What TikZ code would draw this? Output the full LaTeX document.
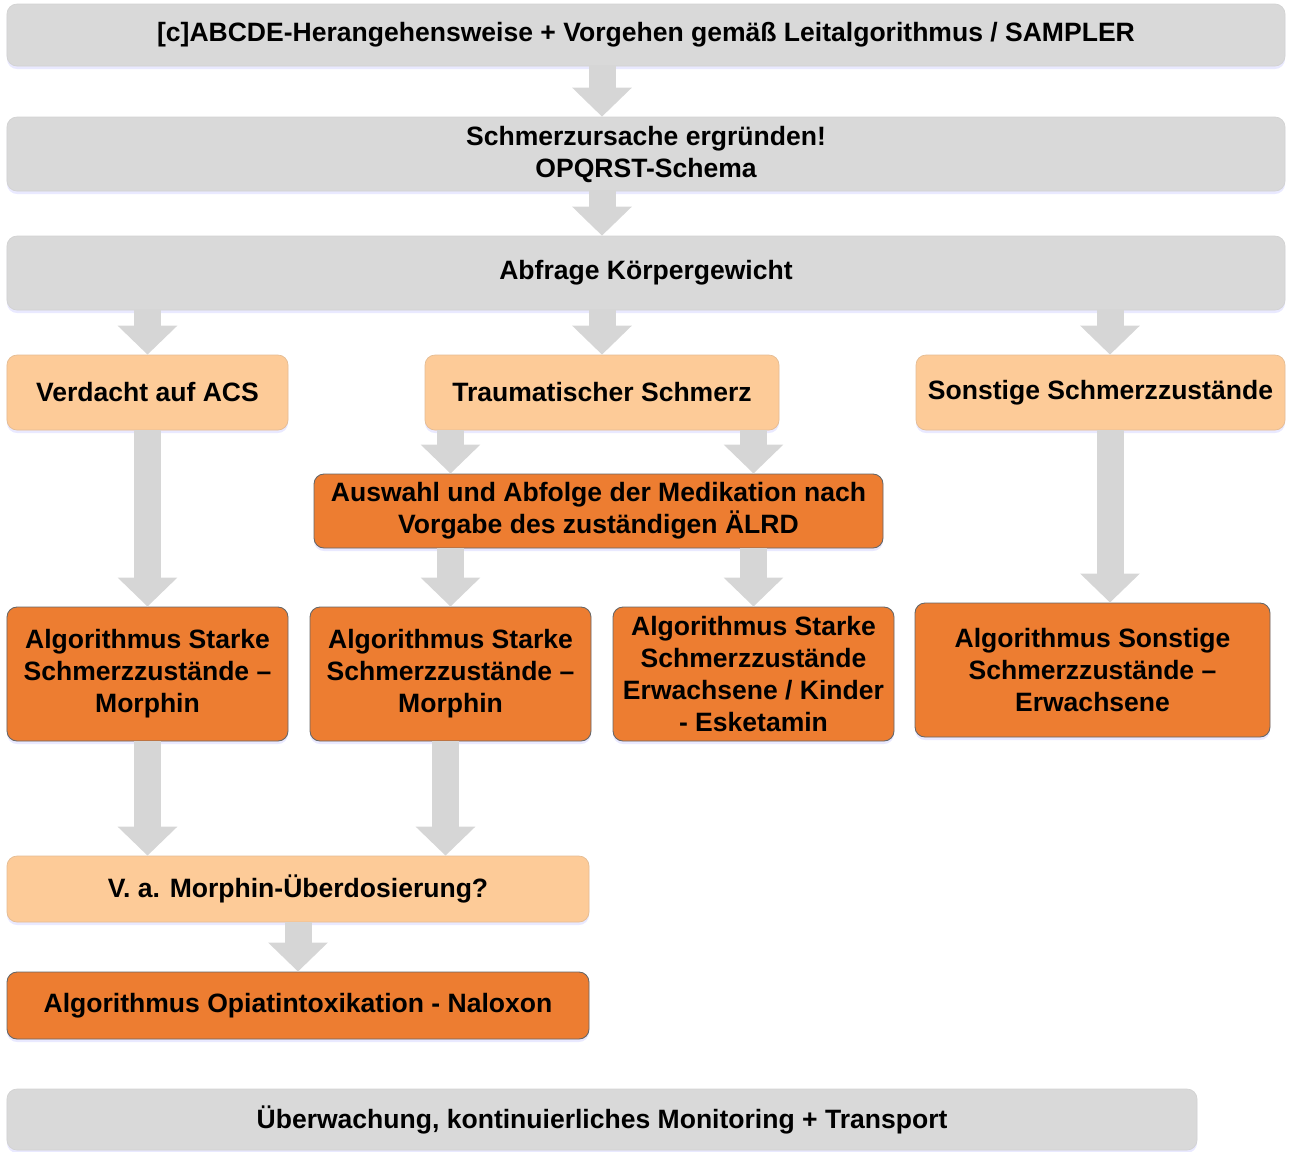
\documentclass[tikz,border=0pt]{standalone}
\usepackage{fontspec}
\setmainfont{Liberation Sans}
\usepackage{tikz}
\usetikzlibrary{arrows.meta,shadows}
\definecolor{boxgray}{HTML}{D9D9D9}
\definecolor{lightorange}{HTML}{FDCB98}
\definecolor{darkorange}{HTML}{ED7D31}
\definecolor{arrowgray}{HTML}{D6D6D6}

\begin{document}
\begin{tikzpicture}[
        font=\fontsize{15.1}{18.2}\selectfont\bfseries,
        box/.style={rounded corners=0.2cm, align=center, inner sep=0pt,
            drop shadow={shadow xshift=0pt, shadow yshift=-0.06cm, fill=blue!25!white, opacity=0.35}},
        graybox/.style={box, fill=boxgray, draw=gray!35},
        lightbox/.style={box, fill=lightorange, draw=lightorange!80!gray},
        orangebox/.style={box, fill=darkorange, draw=gray!80!black, line width=0.5pt},
        blockarrow/.style={draw=arrowgray, line width=0.54cm, -{Triangle[width=1.16cm,length=0.58cm]}}
    ]
        \useasboundingbox (0,0) rectangle (25.92,-23.02);
        \node[graybox, minimum width=25.56cm, minimum height=1.24cm] (abcde) at (12.92,-0.70) {[c]ABCDE-Herangehensweise + Vorgehen gemäß Leitalgorithmus / SAMPLER};
        \node[graybox, minimum width=25.56cm, minimum height=1.48cm] (opqrst) at (12.92,-3.08) {Schmerzursache ergründen!\\OPQRST-Schema};
        \node[graybox, minimum width=25.56cm, minimum height=1.48cm] (gewicht) at (12.92,-5.46) {Abfrage Körpergewicht};
        \node[lightbox, minimum width=5.62cm, minimum height=1.50cm] (acs) at (2.95,-7.85) {Verdacht auf ACS};
        \node[lightbox, minimum width=7.08cm, minimum height=1.50cm] (trauma) at (12.04,-7.85) {Traumatischer Schmerz};
        \node[lightbox, minimum width=7.38cm, minimum height=1.50cm] (sonstige) at (22.01,-7.85) {Sonstige Schmerzzustände};
        \node[orangebox, minimum width=11.38cm, minimum height=1.48cm] (auswahl) at (11.97,-10.22) {Auswahl und Abfolge der Medikation nach\\Vorgabe des zuständigen ÄLRD};
        \node[orangebox, minimum width=5.62cm, minimum height=2.68cm] (morphinA) at (2.95,-13.48) {Algorithmus Starke\\Schmerzzustände –\\Morphin};
        \node[orangebox, minimum width=5.62cm, minimum height=2.68cm] (morphinB) at (9.01,-13.48) {Algorithmus Starke\\Schmerzzustände –\\Morphin};
        \node[orangebox, minimum width=5.62cm, minimum height=2.68cm] (esketamin) at (15.07,-13.48) {Algorithmus Starke\\Schmerzzustände\\Erwachsene / Kinder\\- Esketamin};
        \node[orangebox, minimum width=7.10cm, minimum height=2.68cm] (sonstalg) at (21.85,-13.40) {Algorithmus Sonstige\\Schmerzzustände –\\Erwachsene};
        \node[lightbox, minimum width=11.64cm, minimum height=1.32cm] (ueberdosis) at (5.96,-17.78) {V. a. Morphin-Überdosierung?};
        \node[orangebox, minimum width=11.64cm, minimum height=1.34cm] (naloxon) at (5.96,-20.11) {Algorithmus Opiatintoxikation - Naloxon};
        \node[graybox, minimum width=23.80cm, minimum height=1.22cm] (transport) at (12.04,-22.39) {Überwachung, kontinuierliches Monitoring + Transport};
        \draw[blockarrow] (abcde.south -| trauma.north) -- (opqrst.north -| trauma.north);
        \draw[blockarrow] (opqrst.south -| trauma.north) -- (gewicht.north -| trauma.north);
        \draw[blockarrow] (gewicht.south -| acs.north) -- (acs.north);
        \draw[blockarrow] (gewicht.south -| trauma.north) -- (trauma.north);
        \draw[blockarrow] ([xshift=0.19cm]gewicht.south -| sonstige.north) -- ([xshift=0.19cm]sonstige.north);
        \draw[blockarrow] (acs.south) -- (morphinA.north);
        \draw[blockarrow] (trauma.south -| morphinB.north) -- (auswahl.north -| morphinB.north);
        \draw[blockarrow] (trauma.south -| esketamin.north) -- (auswahl.north -| esketamin.north);
        \draw[blockarrow] (auswahl.south -| morphinB.north) -- (morphinB.north);
        \draw[blockarrow] (auswahl.south -| esketamin.north) -- (esketamin.north);
        \draw[blockarrow] ([xshift=0.19cm]sonstige.south) -- ([xshift=0.19cm]sonstalg.north -| sonstige.south);
        \draw[blockarrow] (morphinA.south) -- (ueberdosis.north -| morphinA.south);
        \draw[blockarrow] ([xshift=-0.1cm]morphinB.south) -- ([xshift=-0.1cm]ueberdosis.north -| morphinB.south);
        \draw[blockarrow] (ueberdosis.south) -- (naloxon.north);
\end{tikzpicture}
\end{document}
